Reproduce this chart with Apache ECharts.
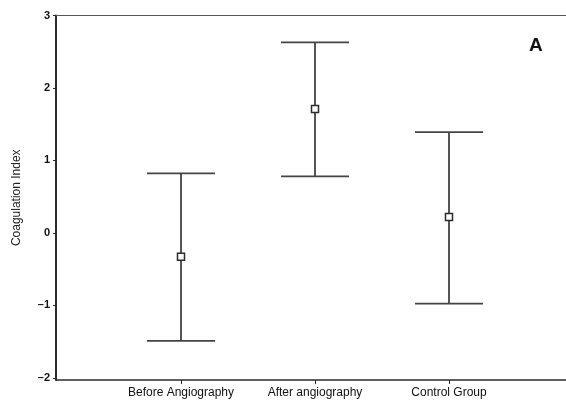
<!DOCTYPE html>
<html>
<head>
<meta charset="utf-8">
<script src="https://cdn.jsdelivr.net/npm/echarts@6/dist/echarts.min.js"></script>
<style>
  html, body { margin: 0; padding: 0; background: #fff; }
  #chart { width: 566px; height: 405px; }
</style>
</head>
<body>
<div id="chart"></div>
<script>
// Group names along the x axis
var categories = ['Before Angiography', 'After angiography', 'Control Group'];
// Mean coagulation index per group
var means = [-0.33, 1.71, 0.22];
// Upper and lower ends of each error bar
var upper = [0.82, 2.63, 1.39];
var lower = [-1.49, 0.78, -0.975];
// Y tick values
var yTicks = [-2, -1, 0, 1, 2, 3];

var xPositions = categories.map(function (_, i) { return i + 1; });
var barData = categories.map(function (_, i) {
  return [xPositions[i], means[i], lower[i], upper[i]];
});

var ink = '#2b2b2b';
var capHalf = 0.254;

var chart = echarts.init(document.getElementById('chart'));
chart.setOption({
  animation: false,
  backgroundColor: '#fff',
  grid: { left: 56, right: 0, top: 15.5, bottom: 25 },
  xAxis: [{
    type: 'value',
    min: 1 - 125 / 134,
    max: 3 + 117 / 134,
    splitLine: { show: false },
    axisLine: { show: true, onZero: false, lineStyle: { color: ink, width: 1.5 } },
    axisTick: { show: true, customValues: xPositions, length: 4, lineStyle: { color: ink, width: 1 } },
    axisLabel: {
      customValues: xPositions,
      formatter: function (v) { return categories[Math.round(v) - 1] || ''; },
      color: '#111', fontFamily: 'Liberation Sans, Arial', fontSize: 12, margin: 7
    }
  }, {
    type: 'value',
    position: 'top',
    min: 1 - 125 / 134,
    max: 3 + 117 / 134,
    splitLine: { show: false },
    axisLine: { show: true, onZero: false, lineStyle: { color: '#555', width: 1.2 } },
    axisTick: { show: false },
    axisLabel: { show: false }
  }],
  yAxis: {
    type: 'value',
    min: -2.03,
    max: 3,
    name: 'Coagulation Index',
    nameLocation: 'middle',
    nameGap: 33,
    nameRotate: 90,
    nameTextStyle: { color: '#222', fontFamily: 'Liberation Sans, Arial', fontSize: 12 },
    splitLine: { show: false },
    axisLine: { show: true, onZero: false, lineStyle: { color: ink, width: 2 } },
    axisTick: { show: true, customValues: yTicks, length: 3, lineStyle: { color: ink, width: 1 } },
    axisLabel: {
      customValues: yTicks,
      formatter: function (v) { return v < 0 ? '\u2013' + Math.abs(v) : String(v); },
      color: '#111', fontFamily: 'Liberation Sans, Arial', fontSize: 11, fontWeight: 'bold', margin: 6
    }
  },
  series: [{
    type: 'custom',
    data: barData,
    encode: { x: 0, y: [1, 2, 3] },
    renderItem: function (params, api) {
      var x = api.value(0);
      var top = api.coord([x, api.value(3)]);
      var bot = api.coord([x, api.value(2)]);
      var mid = api.coord([x, api.value(1)]);
      var capL = api.coord([x - capHalf, api.value(3)])[0];
      var capR = api.coord([x + capHalf, api.value(3)])[0];
      var lineStyle = { stroke: ink, lineWidth: 1.6 };
      return {
        type: 'group',
        children: [
          { type: 'line', shape: { x1: top[0], y1: top[1], x2: bot[0], y2: bot[1] }, style: lineStyle },
          { type: 'line', shape: { x1: capL, y1: top[1], x2: capR, y2: top[1] }, style: { stroke: '#444', lineWidth: 1.8 } },
          { type: 'line', shape: { x1: capL, y1: bot[1], x2: capR, y2: bot[1] }, style: { stroke: '#444', lineWidth: 1.8 } },
          { type: 'rect', shape: { x: mid[0] - 3.5, y: mid[1] - 3.5, width: 7, height: 7 }, style: { fill: '#fff', stroke: ink, lineWidth: 1.5 } }
        ]
      };
    }
  }],
  graphic: [{
    type: 'text',
    left: 529,
    top: 36,
    style: { text: 'A', fill: '#111', font: 'bold 19px Liberation Sans, Arial' }
  }]
});
</script>
</body>
</html>
